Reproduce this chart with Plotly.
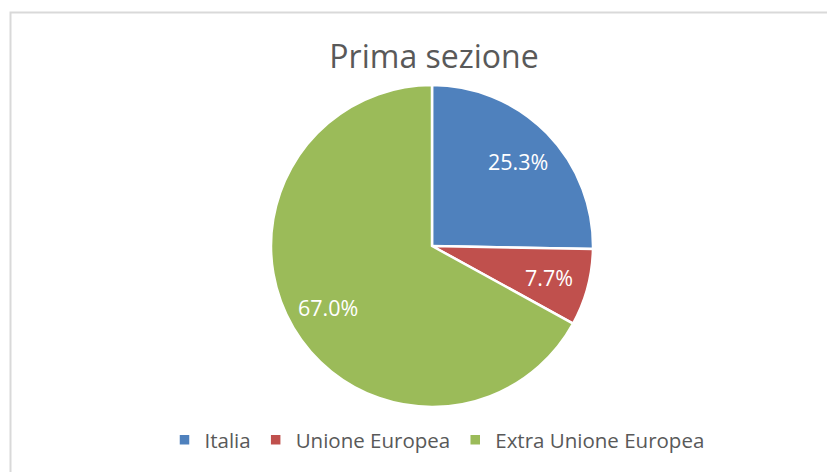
import math
import plotly.graph_objects as go

labels = ["Italia", "Unione Europea", "Extra Unione Europea"]
values = [25.3, 7.7, 67.0]
colors = ["#4F81BD", "#C0504D", "#9BBB59"]
title_text = "Prima sezione"

W, H = 835, 472
# page body has an 8px margin, so figure coordinates are screen coordinates minus 8
cx, cy, r = 424, 238, 161
FONT = "Open Sans"

fig = go.Figure(go.Pie(
    labels=labels, values=values, sort=False, direction="clockwise", rotation=0,
    marker=dict(colors=colors, line=dict(color="white", width=2.5)),
    textinfo="none",
    domain=dict(x=[(cx - r) / W, (cx + r) / W], y=[(H - cy - r) / H, (H - cy + r) / H]),
    hoverinfo="label+percent",
))

# data labels placed along each slice's mid-angle (derived from the values)
total = sum(values)
annotations = []
cum = 0.0
for v in values:
    mid = (cum + v / 2) / total * 2 * math.pi
    cum += v
    f = 0.75
    px = cx + f * r * math.sin(mid)
    py = cy - f * r * math.cos(mid)
    annotations.append(dict(
        x=px / W, y=1 - py / H, xref="paper", yref="paper",
        text=f"{v / total * 100:.1f}%", showarrow=False,
        xanchor="center", yanchor="middle",
        font=dict(family=FONT, size=21.5, color="white"),
    ))

fig.update_layout(
    width=W, height=H,
    margin=dict(l=0, r=0, t=0, b=0),
    paper_bgcolor="white",
    title=dict(text=title_text, x=(426) / W, xanchor="center", y=1 - 49 / H, yanchor="middle",
               font=dict(family=FONT, size=32, color="#595959")),
    legend=dict(orientation="h", x=429 / W, xanchor="center", y=1 - 432 / H, yanchor="middle",
                font=dict(family=FONT, size=20.5, color="#595959"), itemwidth=30,
                traceorder="normal"),
    annotations=annotations,
    shapes=[dict(type="rect", xref="paper", yref="paper",
                 x0=2.5 / W, x1=1.05, y0=-0.05, y1=1 - 4.5 / H,
                 line=dict(color="#D9D9D9", width=2))],
)

fig.write_html("out.html")
